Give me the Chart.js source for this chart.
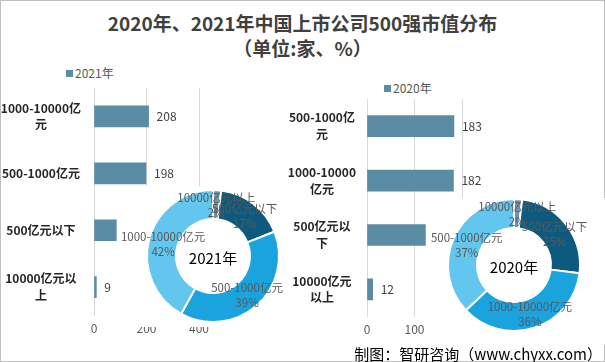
<!DOCTYPE html>
<html>
<head>
<meta charset="utf-8">
<script src="https://cdn.jsdelivr.net/npm/chart.js@4.4.1/dist/chart.umd.min.js"></script>
<style>
  html, body { margin: 0; padding: 0; background: #fff; overflow: hidden; }
  #wrap { position: relative; width: 605px; height: 362px; font-family: "Noto Sans CJK SC", "Noto Sans", sans-serif; }
  #frame { position: absolute; left: 0; top: 0; width: 603px; height: 360px; border: 1px solid #bfbfbf; }
  canvas { position: absolute; }
  .title { position: absolute; left: 0; top: 10px; width: 605px; text-align: center; font-weight: bold; font-size: 19px; line-height: 25px; color: #404040; }
  .legend { position: absolute; font-size: 12px; line-height: 16px; color: #595959; }
  .legend i { display: inline-block; width: 7px; height: 7px; background: #5b8ca5; margin-right: 2px; vertical-align: 1px; }
  .source { position: absolute; right: 3px; top: 345px; font-size: 15px; line-height: 18px; color: #000; z-index: 5; }
</style>
</head>
<body>
<div id="wrap">
  <div id="frame"></div>
  <div class="title">2020年、2021年中国上市公司500强市值分布<br>（单位:家、%）</div>
  <div class="legend" style="left:66px;top:65px"><i></i>2021年</div>
  <div class="legend" style="left:384px;top:80px"><i></i>2020年</div>
  <canvas id="bar2021" width="215" height="270" style="left:0;top:80px"></canvas>
  <canvas id="bar2020" width="220" height="260" style="left:280px;top:90px"></canvas>
  <canvas id="ring2021" width="171" height="141" style="left:118px;top:186px"></canvas>
  <canvas id="ring2020" width="175" height="147" style="left:430px;top:198px"></canvas>
  <div class="source">制图：智研咨询（www.chyxx.com）</div>
</div>

<script>
// bar data, top to bottom
const cats2021 = ["1000-10000亿元", "500-1000亿元", "500亿元以下", "10000亿元以上"];
const ticks2021 = [["1000-10000亿", "元"], "500-1000亿元", "500亿元以下", ["10000亿元以", "上"]];
const values2021 = [208, 198, 85, 9];

const cats2020 = ["500-1000亿元", "1000-10000亿元", "500亿元以下", "10000亿元以上"];
const ticks2020 = [["500-1000亿", "元"], ["1000-10000", "亿元"], ["500亿元以", "下"], ["10000亿元", "以上"]];
const values2020 = [183, 182, 123, 12];

// donut data, clockwise from 12 o'clock
const ringCats2021 = ["10000亿元以上", "500亿元以下", "500-1000亿元", "1000-10000亿元"];
const ringPct2021 = [2, 17, 39, 42];
const ringCats2020 = ["10000亿元以上", "500亿元以下", "1000-10000亿元", "500-1000亿元"];
const ringPct2020 = [2, 25, 36, 37];

const FONT = '"Noto Sans CJK SC", "Noto Sans", sans-serif';
Chart.defaults.font.family = FONT;
Chart.defaults.animation = false;

const BAR_COLOR = "#5b8ca5";
const RING_COLORS = ["#6d93a6", "#0e5a7e", "#1aa3dc", "#63c6ef"];

// value labels right of bars
const barLabels = {
  id: "barLabels",
  afterDatasetsDraw(chart) {
    const ctx = chart.ctx;
    const meta = chart.getDatasetMeta(0);
    ctx.save();
    ctx.font = "12px " + FONT;
    ctx.fillStyle = "#404040";
    ctx.textAlign = "left";
    ctx.textBaseline = "middle";
    meta.data.forEach((bar, i) => {
      ctx.fillText(chart.data.datasets[0].data[i], bar.x + 8, bar.y);
    });
    ctx.restore();
  },
};

// white box + labels + centre text for donuts
const ringDeco = {
  id: "ringDeco",
  beforeDraw(chart) {
    const ctx = chart.ctx;
    ctx.save();
    ctx.fillStyle = "#fff";
    ctx.fillRect(0, 0, chart.width, chart.height);
    ctx.restore();
  },
  afterDatasetsDraw(chart, args, opts) {
    const ctx = chart.ctx;
    const meta = chart.getDatasetMeta(0);
    ctx.save();
    ctx.textAlign = "center";
    ctx.textBaseline = "middle";
    ctx.font = "11.5px " + FONT;
    ctx.fillStyle = "#595959";
    meta.data.forEach((arc, i) => {
      const p = arc.getCenterPoint();
      ctx.fillText(chart.data.labels[i], p.x, p.y - 7);
      ctx.fillText(chart.data.datasets[0].data[i] + "%", p.x, p.y + 8);
    });
    const a = chart.chartArea;
    ctx.font = "15px " + FONT;
    ctx.fillStyle = "#000";
    ctx.fillText(opts.text, (a.left + a.right) / 2, (a.top + a.bottom) / 2 + 2);
    ctx.restore();
  },
};

function barChart(id, labels, values, max, step, axisWidth, padding, tickPad) {
  return new Chart(document.getElementById(id), {
    type: "bar",
    data: {
      labels: labels,
      datasets: [{ data: values, backgroundColor: BAR_COLOR, barThickness: 21 }],
    },
    options: {
      responsive: false,
      indexAxis: "y",
      layout: { padding: padding },
      plugins: { legend: { display: false }, tooltip: { enabled: false } },
      scales: {
        x: {
          min: 0,
          max: max,
          ticks: { stepSize: step, color: "#595959", font: { size: 12 }, padding: 6 },
          grid: { color: "#d9d9d9", drawTicks: false },
          border: { display: false },
        },
        y: {
          ticks: {
            color: "#262626",
            font: { size: 12, weight: "bold", lineHeight: 1.4 },
            crossAlign: "center",
            padding: tickPad,
          },
          grid: { display: false, drawTicks: false },
          border: { display: false },
          afterFit(scale) {
            scale.width = axisWidth;
            scale.paddingTop = 0;
            scale.paddingBottom = 0;
          },
        },
      },
    },
    plugins: [barLabels],
  });
}

function ringChart(id, labels, pct, text, padding) {
  return new Chart(document.getElementById(id), {
    type: "doughnut",
    data: {
      labels: labels,
      datasets: [{ data: pct, backgroundColor: RING_COLORS, borderColor: "#fff", borderWidth: 2 }],
    },
    options: {
      responsive: false,
      radius: 66,
      cutout: "56%",
      layout: { padding: padding },
      plugins: { legend: { display: false }, tooltip: { enabled: false }, ringDeco: { text: text } },
    },
    plugins: [ringDeco],
  });
}

barChart("bar2021", ticks2021, values2021, 400, 200, 94, { left: 0, right: 15, top: 8, bottom: 8 }, 13);
barChart("bar2020", ticks2020, values2020, 200, 100, 87, { left: 0, right: 38, top: 9, bottom: 7 }, 11);
ringChart("ring2021", ringCats2021, ringPct2021, "2021年", { left: 28, right: 9, top: 3, bottom: 4 });
ringChart("ring2020", ringCats2020, ringPct2020, "2020年", { left: 17, right: 24, top: 1, bottom: 14 });
</script>
</body>
</html>
